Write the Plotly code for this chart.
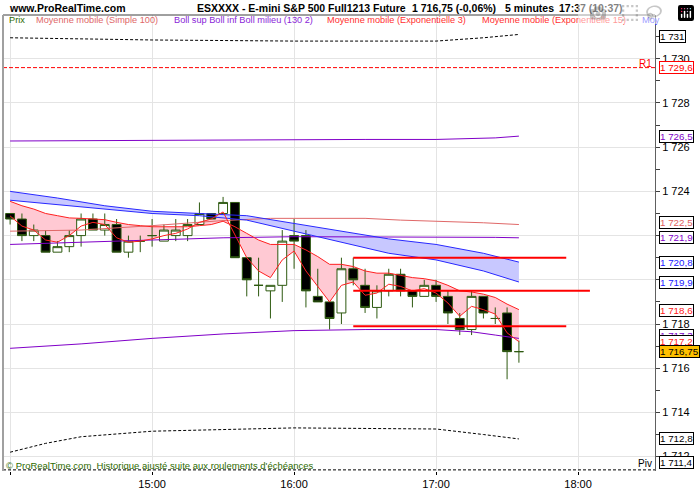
import plotly.graph_objects as go
import pandas as pd

DAY = "2013-11-20"

def T(hm):
    return f"{DAY} {hm}"

# ---------------- data ----------------
candle_times = list(pd.date_range(T("14:00"), T("17:35"), freq="5min").strftime("%Y-%m-%d %H:%M"))

opens  = [1723.0, 1722.75, 1722.0, 1722.0, 1721.25, 1721.5, 1722.0, 1722.75, 1722.25, 1722.5,
          1721.25, 1721.75, 1722.0, 1721.75, 1722.0, 1722.0, 1722.5, 1723.0, 1723.0, 1723.5,
          1721.0, 1719.75, 1719.5, 1719.75, 1722.0, 1722.0, 1719.25, 1719.0, 1718.5, 1720.5,
          1719.75, 1718.75, 1719.5, 1720.25, 1719.5, 1719.25, 1719.75, 1719.25, 1718.25, 1717.75,
          1719.25, 1718.25, 1718.5, 1716.75]
highs  = [1723.0, 1723.0, 1722.5, 1722.25, 1721.75, 1722.25, 1723.0, 1723.0, 1723.0, 1722.75,
          1722.0, 1722.0, 1722.75, 1722.5, 1722.75, 1722.75, 1723.5, 1723.0, 1723.75, 1723.5,
          1721.0, 1721.0, 1719.75, 1722.25, 1722.75, 1722.25, 1720.5, 1719.0, 1721.0, 1721.0,
          1720.5, 1719.75, 1720.5, 1720.5, 1719.5, 1720.0, 1720.0, 1719.5, 1718.5, 1719.5,
          1719.25, 1718.75, 1718.75, 1717.25]
lows   = [1722.5, 1721.75, 1721.75, 1721.25, 1721.25, 1721.25, 1721.5, 1722.25, 1722.0, 1721.25,
          1721.0, 1721.25, 1721.5, 1721.75, 1721.75, 1721.75, 1722.5, 1722.75, 1723.0, 1721.0,
          1719.25, 1719.25, 1718.25, 1719.0, 1720.5, 1718.75, 1719.0, 1717.75, 1718.0, 1719.75,
          1718.5, 1718.25, 1719.25, 1719.25, 1718.75, 1719.25, 1719.0, 1718.0, 1717.5, 1717.5,
          1718.25, 1718.0, 1715.5, 1716.25]
closes = [1722.75, 1722.0, 1722.25, 1721.25, 1721.5, 1722.0, 1722.75, 1722.25, 1722.5, 1721.25,
          1721.75, 1721.75, 1722.0, 1722.25, 1722.25, 1722.5, 1723.0, 1722.75, 1723.5, 1721.0,
          1720.0, 1719.75, 1719.75, 1721.75, 1721.75, 1719.5, 1719.0, 1718.25, 1720.5, 1720.0,
          1718.75, 1719.5, 1720.25, 1719.5, 1719.25, 1719.75, 1719.25, 1718.5, 1717.75, 1719.25,
          1718.5, 1718.25, 1716.75, 1716.75]

ema3  = [1722.89, 1722.43, 1722.25, 1721.8, 1721.7, 1722.0, 1722.43, 1722.6, 1722.5, 1721.9,
         1721.7, 1721.75, 1721.85, 1722.0, 1722.1, 1722.3, 1722.6, 1722.75, 1723.07, 1722.0,
         1721.0, 1720.4, 1720.1, 1720.9, 1721.3, 1720.4, 1719.7, 1719.0, 1719.75, 1719.9,
         1719.3, 1719.4, 1719.8, 1719.7, 1719.5, 1719.6, 1719.4, 1718.95, 1718.35, 1718.8,
         1718.65, 1718.45, 1717.6, 1717.2]
ema15 = [1723.55, 1723.35, 1723.2, 1723.0, 1722.9, 1722.8, 1722.78, 1722.75, 1722.72, 1722.6,
         1722.5, 1722.45, 1722.4, 1722.4, 1722.4, 1722.4, 1722.45, 1722.5, 1722.65, 1722.4,
         1722.1, 1721.8, 1721.6, 1721.6, 1721.6, 1721.35, 1721.05, 1720.7, 1720.7, 1720.6,
         1720.4, 1720.3, 1720.3, 1720.2, 1720.1, 1720.05, 1719.95, 1719.75, 1719.5, 1719.45,
         1719.35, 1719.2, 1718.9, 1718.65]

sma100_times = ["14:00", "14:30", "15:00", "15:30", "15:50", "16:30", "16:45", "17:10", "17:20", "17:35"]
sma100 = [1722.2, 1722.25, 1722.45, 1722.68, 1722.78, 1722.78, 1722.7, 1722.62, 1722.58, 1722.5]

boll_times = ["14:00", "14:30", "15:00", "15:30", "16:00", "16:30", "17:00", "17:15", "17:25", "17:35"]
boll_up  = [1726.28, 1726.3, 1726.3, 1726.32, 1726.35, 1726.35, 1726.35, 1726.38, 1726.42, 1726.5]
boll_mid = [1721.6, 1721.7, 1721.8, 1721.9, 1721.95, 1721.95, 1721.95, 1721.93, 1721.92, 1721.9]
boll_low = [1716.9, 1717.1, 1717.35, 1717.55, 1717.7, 1717.75, 1717.75, 1717.65, 1717.5, 1717.35]

blue_times = ["14:00", "14:20", "14:40", "15:00", "15:20", "15:40", "16:00", "16:20", "16:40", "17:00", "17:20", "17:35"]
blue_up  = [1724.0, 1723.7, 1723.35, 1723.1, 1723.0, 1722.9, 1722.55, 1722.2, 1721.85, 1721.6, 1721.2, 1720.8]
blue_low = [1723.6, 1723.4, 1723.2, 1723.0, 1722.9, 1722.7, 1722.2, 1721.7, 1721.2, 1720.9, 1720.4, 1719.9]

dash_up_times = ["14:00", "15:00", "16:00", "17:00", "17:20", "17:35"]
dash_up = [1730.95, 1730.85, 1730.8, 1730.8, 1730.95, 1731.1]
dash_low_times = ["14:00", "14:15", "14:30", "15:00", "16:00", "17:00", "17:20", "17:35"]
dash_low = [1712.2, 1712.6, 1712.9, 1713.15, 1713.3, 1713.25, 1713.0, 1712.8]

seg_levels = [1721.0, 1719.5, 1717.9]
seg_start = ["16:25", "16:25", "16:25"]
seg_end = ["17:55", "18:05", "17:55"]

R1 = 1729.6
PIV = 1711.4

y_tick_vals = [1712, 1714, 1716, 1718, 1720, 1722, 1724, 1726, 1728, 1730]
y_tick_text = ["1 712", "1 714", "1 716", "1 718", "1 720", "1 722", "1 724", "1 726", "1 728", "1 730"]
y_minor_vals = [1713, 1715, 1717, 1719, 1721, 1723, 1725, 1727, 1729, 1731]
x_tick_vals = ["14:00", "15:00", "16:00", "17:00", "18:00"]
x_tick_text = ["", "15:00", "16:00", "17:00", "18:00"]

# right-side value labels: text, value position, text colour, border colour, background
right_labels = [
    ("1 731",    1731.0,  "#000000", "#000000", "white"),
    ("1 729,6",  1729.6,  "#FF0000", "#FF0000", "white"),
    ("1 726,5",  1726.5,  "#8000C8", "#000000", "white"),
    ("1 722,5",  1722.58, "#E06060", "#000000", "white"),
    ("1 721,9",  1721.9,  "#8000C8", "#000000", "white"),
    ("1 720,8",  1720.8,  "#2020FF", "#000000", "white"),
    ("1 719,9",  1719.9,  "#2020FF", "#000000", "white"),
    ("1 718,6",  1718.6,  "#FF2020", "#000000", "white"),
    ("1 717,3",  1717.5,  "#8000C8", "#000000", "white"),
    ("1 717,2",  1717.2,  "#FF2020", "#000000", "white"),
    ("1 716,75", 1716.75, "#000000", "#000000", "#FFC000"),
    ("1 712,8",  1712.8,  "#000000", "#000000", "white"),
    ("1 711,4",  1711.75, "#000000", "#000000", "white"),
]

# ---------------- colours ----------------
C_GREEN = "#2E5A10"
C_RED = "#FF2020"
C_SALMON = "#E06868"
C_PURPLE = "#8000C8"
C_BLUE = "#2828FF"
FONT = "Liberation Sans, Arial, sans-serif"

fig = go.Figure()

# fills (bottom layer, y)
fig.add_trace(go.Scatter(x=candle_times, y=ema15, mode="lines", line=dict(width=0),
                         hoverinfo="skip", showlegend=False, xaxis="x", yaxis="y"))
fig.add_trace(go.Scatter(x=candle_times, y=ema3, mode="lines", line=dict(width=0),
                         fill="tonexty", fillcolor="#FFC9D3",
                         hoverinfo="skip", showlegend=False, xaxis="x", yaxis="y"))
bt = [T(h) for h in blue_times]
fig.add_trace(go.Scatter(x=bt, y=blue_up, mode="lines", line=dict(width=0),
                         hoverinfo="skip", showlegend=False, xaxis="x", yaxis="y"))
fig.add_trace(go.Scatter(x=bt, y=blue_low, mode="lines", line=dict(width=0),
                         fill="tonexty", fillcolor="#C8C8FF",
                         hoverinfo="skip", showlegend=False, xaxis="x", yaxis="y"))

# candles (overlay y2)
fig.add_trace(go.Candlestick(
    x=candle_times, open=opens, high=highs, low=lows, close=closes,
    increasing=dict(line=dict(color=C_GREEN, width=1), fillcolor="white"),
    decreasing=dict(line=dict(color=C_GREEN, width=1), fillcolor="black"),
    whiskerwidth=0, showlegend=False, xaxis="x", yaxis="y2"))

def line(xs, ys, color, width=1, dash=None):
    fig.add_trace(go.Scatter(x=xs, y=ys, mode="lines",
                             line=dict(color=color, width=width, dash=dash),
                             hoverinfo="skip", showlegend=False, xaxis="x", yaxis="y2"))

line([T(h) for h in dash_up_times], dash_up, "#000000", 1, "3px,2px")
line([T(h) for h in dash_low_times], dash_low, "#000000", 1, "3px,2px")
line([T(h) for h in sma100_times], sma100, C_SALMON, 1)
bo = [T(h) for h in boll_times]
line(bo, boll_up, C_PURPLE, 1)
line(bo, boll_mid, C_PURPLE, 1)
line(bo, boll_low, C_PURPLE, 1)
line(bt, blue_up, C_BLUE, 1)
line(bt, blue_low, C_BLUE, 1)
line(candle_times, ema15, C_RED, 1)
line(candle_times, ema3, C_RED, 1)
for lv, s, e in zip(seg_levels, seg_start, seg_end):
    line([T(s), T(e)], [lv, lv], "#FF0000", 2)

YR = [1711.35, 1731.98]
XR = [T("13:57"), f"{DAY} 18:32:30"]

shapes = [
    dict(type="line", xref="paper", yref="y", x0=0, x1=1, y0=R1, y1=R1,
         line=dict(color="#FF0000", width=1, dash="4px,2px")),
    dict(type="line", xref="paper", yref="y", x0=0, x1=1, y0=PIV, y1=PIV,
         line=dict(color="#000000", width=1, dash="3px,2px")),
    dict(type="line", xref="paper", yref="paper", x0=0, x1=1, y0=1, y1=1,
         line=dict(color="#404040", width=1)),
    dict(type="line", xref="paper", yref="paper", x0=0, x1=0, y0=0, y1=1,
         line=dict(color="#A0A0A0", width=2)),
]

PW, PH, PL, PT = 652.0, 456.0, 3.0, 15.0
def px(x):
    return (x - PL) / PW
def py(y):
    return (PT + PH - y) / PH

ann = []
def text(x, y, s, color="#000000", size=9.2, bold=False, xanchor="left"):
    ann.append(dict(xref="paper", yref="paper", x=px(x), y=py(y), text=(f"<b>{s}</b>" if bold else s),
                    showarrow=False, xanchor=xanchor, yanchor="middle",
                    font=dict(family=FONT, size=size, color=color)))

# header
HS = 10.5
text(7, 8, "www.ProRealTime.com", size=HS, bold=True)
text(195, 8, "ESXXXX - E-mini S&amp;P 500 Full1213 Future", size=HS, bold=True)
text(410, 8, "1 716,75 (-0,06%)", size=HS, bold=True)
text(503, 8, "5 minutes", size=HS, bold=True)
text(557, 8, "17:37 (10:37)", size=HS, bold=True)
# legend row
text(7, 20, "Prix", color="#2E6B00")
text(34, 20, "Moyenne mobile (Simple 100)", color=C_SALMON)
text(172, 20, "Boll sup Boll inf Boll milieu (130 2)", color="#8A1ED8")
text(325, 20, "Moyenne mobile (Exponentielle 3)", color="#FF3030")
text(480, 20, "Moyenne mobile (Exponentielle 15)", color="#FF3030")
text(640, 20, "Moy", color="#3333FF")
# footer / level names
text(4, 465, "© ProRealTime.com  Historique ajusté suite aux roulements d'échéances", color="#2E6B00", size=9.5)
text(654, 63, "R1", color="#FF0000", size=10, xanchor="right")
text(654, 463, "Piv", color="#000000", size=10, xanchor="right")

for s, v, fc, bc, bg in right_labels:
    ann.append(dict(xref="paper", yref="y", x=px(659), y=v, text=s, showarrow=False,
                    xanchor="left", yanchor="middle", bgcolor=bg, bordercolor=bc,
                    borderwidth=1, borderpad=0,
                    font=dict(family=FONT, size=9.8, color=fc)))

fig.update_layout(
    width=700, height=500,
    margin=dict(l=3, r=45, t=15, b=29),
    paper_bgcolor="white", plot_bgcolor="white",
    boxgap=0.25, boxgroupgap=0,
    showlegend=False,
    shapes=shapes, annotations=ann,
    xaxis=dict(type="date", range=XR, rangeslider=dict(visible=False),
               tickvals=[T(h) for h in x_tick_vals], ticktext=x_tick_text,
               showgrid=True, gridcolor="#E4E4E4", gridwidth=1,
               ticks="outside", ticklen=3, tickcolor="#000000",
               tickfont=dict(family=FONT, size=11, color="#000000"),
               showline=False, zeroline=False, fixedrange=True),
    yaxis=dict(range=YR, side="right", tickmode="array", tickvals=y_tick_vals, ticktext=y_tick_text,
               showgrid=True, gridcolor="#E4E4E4", gridwidth=1,
               ticks="outside", ticklen=4, tickcolor="#404040",
               minor=dict(tickmode="array", tickvals=y_minor_vals, ticks="outside", ticklen=4,
                          tickcolor="#404040", showgrid=False),
               tickfont=dict(family=FONT, size=11, color="#000000"),
               showline=True, linecolor="#606060", linewidth=1,
               zeroline=False, fixedrange=True),
    yaxis2=dict(range=YR, overlaying="y", side="right", visible=False, fixedrange=True),
)

fig.write_html("out.html",
               post_script="document.body.style.margin='0';document.body.style.padding='0';")
